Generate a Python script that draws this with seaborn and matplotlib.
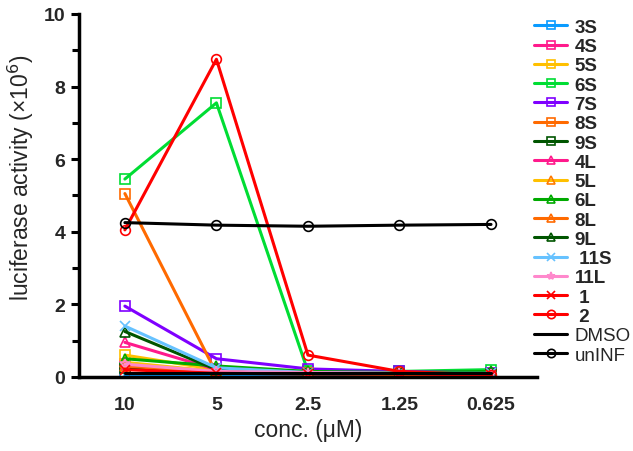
import matplotlib
matplotlib.use("Agg")
import matplotlib.pyplot as plt
import seaborn as sns
import pandas as pd
from matplotlib.ticker import MultipleLocator

sns.set_style("white")
plt.rcParams['font.family'] = ['Liberation Sans', 'DejaVu Sans']

concs = ["10", "5", "2.5", "1.25", "0.625"]

labels = ["3S", "4S", "5S", "6S", "7S", "8S", "9S", "4L", "5L", "6L", "8L", "9L",
          " 11S", "11L", " 1", " 2", "DMSO", "unINF"]

v_3S = [0.05, 0.03, 0.05, 0.05, 0.05]
v_4S = [0.35, 0.15, 0.10, 0.10, 0.08]
v_5S = [0.60, 0.20, 0.12, 0.10, 0.10]
v_6S = [5.45, 7.55, 0.15, 0.15, 0.20]
v_7S = [1.95, 0.50, 0.22, 0.15, 0.12]
v_8S = [5.05, 0.10, 0.10, 0.08, 0.08]
v_9S = [0.25, 0.10, 0.08, 0.08, 0.08]
v_4L = [0.95, 0.20, 0.12, 0.10, 0.10]
v_5L = [0.40, 0.15, 0.10, 0.08, 0.08]
v_6L = [0.50, 0.30, 0.15, 0.12, 0.15]
v_8L = [0.30, 0.12, 0.10, 0.08, 0.08]
v_9L = [1.25, 0.20, 0.10, 0.10, 0.10]
v_11S = [1.40, 0.25, 0.12, 0.10, 0.10]
v_11L = [0.35, 0.15, 0.12, 0.10, 0.08]
v_1 = [0.20, 0.10, 0.08, 0.08, 0.05]
v_2 = [4.05, 8.75, 0.60, 0.15, 0.05]
v_DMSO = [0.10, 0.10, 0.10, 0.10, 0.10]
v_unINF = [4.25, 4.18, 4.15, 4.18, 4.20]

values = [v_3S, v_4S, v_5S, v_6S, v_7S, v_8S, v_9S, v_4L, v_5L, v_6L, v_8L, v_9L,
          v_11S, v_11L, v_1, v_2, v_DMSO, v_unINF]

colors = ["#0a9bff", "#ff1a8c", "#ffc000", "#00dd33", "#7f00ff", "#ff6a00", "#005500",
          "#ff1a8c", "#ffc000", "#00aa00", "#ff6a00", "#005500",
          "#66c2ff", "#ff88cc", "#ff0000", "#ff0000", "#000000", "#000000"]
marker_colors = list(colors)
marker_colors[8] = "#ff7a00"
markers = ["s"] * 7 + ["^"] * 5 + ["x", "*", "x", "o", "", "o"]

fig, ax = plt.subplots(figsize=(6.33, 4.52), dpi=100)
fig.subplots_adjust(left=0.125, right=0.848, top=0.967, bottom=0.164)

for lab, vals, c, mc, m in zip(labels, values, colors, marker_colors, markers):
    df = pd.DataFrame({"x": range(len(concs)), "y": vals})
    sns.lineplot(data=df, x="x", y="y", ax=ax, color=c, linewidth=2.2,
                 marker=m if m else None, markersize=7, markerfacecolor="none",
                 markeredgecolor=mc, markeredgewidth=1.2, label=lab)

ax.set_xlim(-0.5, 4.5)
ax.set_ylim(0, 10)
ax.set_xticks(range(len(concs)))
ax.set_xticklabels(concs, fontweight="bold", fontsize=14)
ax.yaxis.set_major_locator(MultipleLocator(2))
ax.yaxis.set_minor_locator(MultipleLocator(1))
for t in ax.get_yticklabels():
    t.set_fontweight("bold")
    t.set_fontsize(14)
ax.tick_params(axis="y", which="both", direction="out", left=True, width=2.2, color="black", pad=4)
ax.tick_params(axis="y", which="major", length=6)
ax.tick_params(axis="y", which="minor", length=5)
ax.tick_params(axis="x", bottom=False, pad=10)
ax.set_xlabel("conc. (μM)", fontsize=16.5, labelpad=4)
ax.set_ylabel("luciferase activity (×10$^6$)", fontsize=16.5)
ax.yaxis.set_label_coords(-0.094, 0.55)

for s in ["top", "right"]:
    ax.spines[s].set_visible(False)
for s in ["left", "bottom"]:
    ax.spines[s].set_color("black")
    ax.spines[s].set_linewidth(2.5)

leg = ax.legend(loc="upper left", bbox_to_anchor=(0.832, 0.973), bbox_transform=fig.transFigure,
                frameon=False, fontsize=13.5, handlelength=1.75, labelspacing=0.115,
                handletextpad=0.4, borderaxespad=0)
for h in leg.legend_handles:
    h.set_markersize(6)
for t in leg.get_texts():
    if t.get_text() not in ("DMSO", "unINF"):
        t.set_fontweight("bold")

fig.savefig("out.png", dpi=100)
